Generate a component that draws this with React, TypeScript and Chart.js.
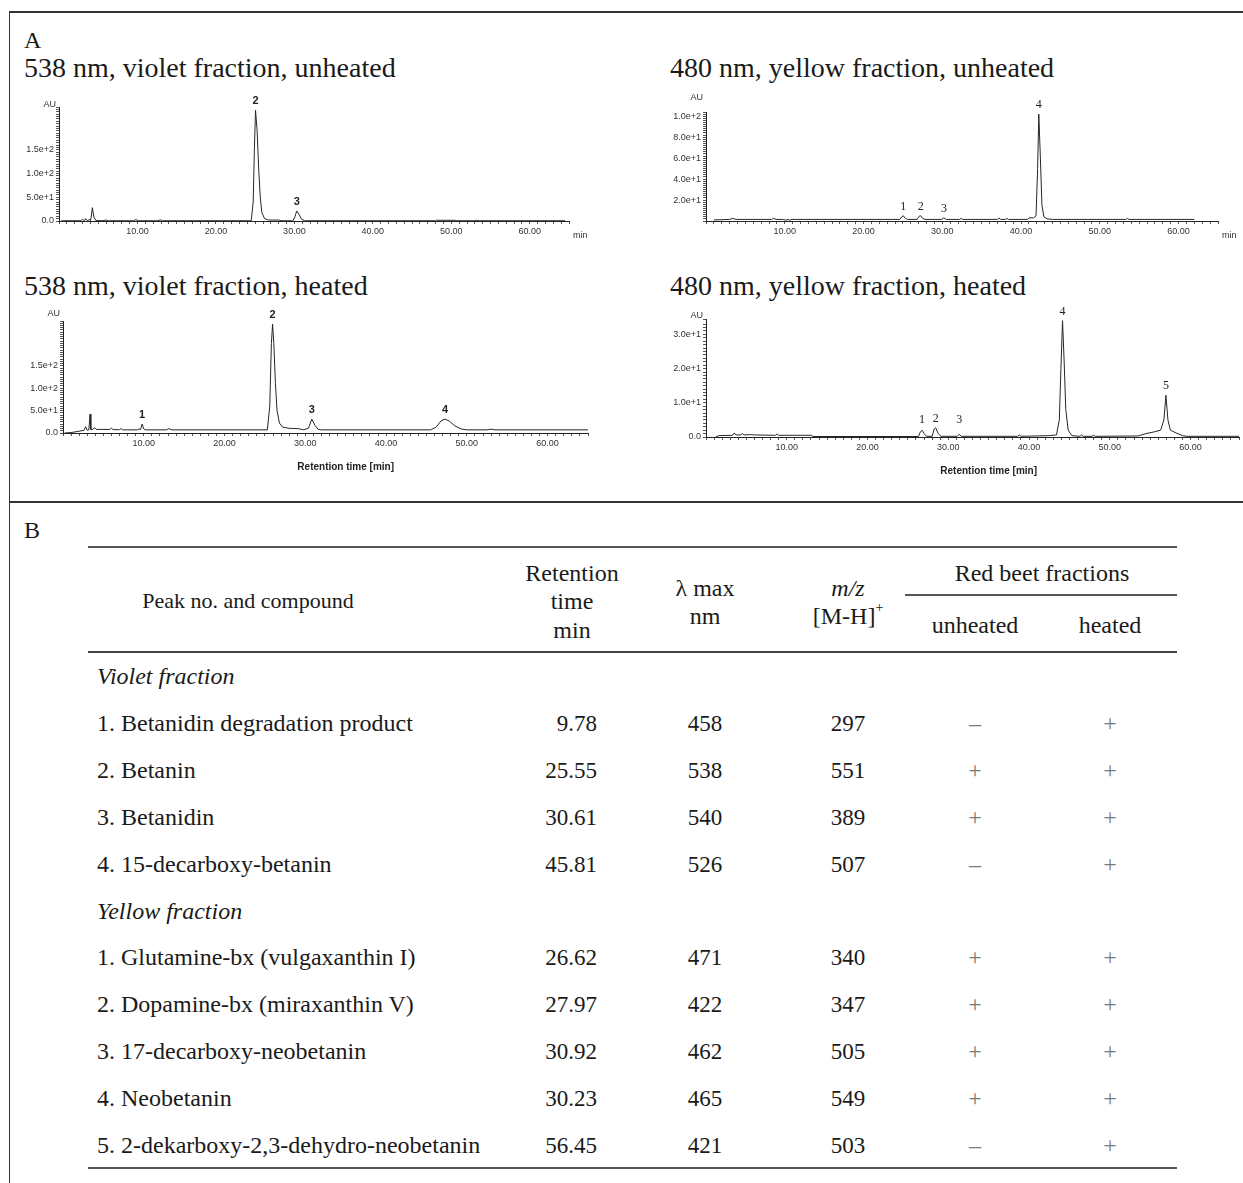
import React, { useEffect, useRef } from 'react';
import { Chart, registerables } from 'chart.js';

Chart.register(...registerables);

// ---------------- Chromatogram traces: [retention time (min), absorbance (AU)] ----------------
const violetUnheatedTrace: [number, number][] = [
  [0.3, 0.5], [2.8, 0.5], [3.0, 4], [3.2, 0.5], [3.4, 5], [3.6, 1], [3.9, 3], [4.0, 0.5], [4.1, 8], [4.25, 28],
  [4.45, 8], [4.7, 1], [5.5, 0.5], [6.0, 2], [6.3, 0.5], [9.5, 0.5], [9.8, 3], [10.1, 0.5], [12.6, 0.5],
  [12.9, 2.5], [13.2, 0.5], [24.5, 0.5], [24.75, 40], [24.9, 150], [25.05, 233], [25.25, 190], [25.45, 110],
  [25.65, 50], [25.85, 18], [26.2, 5], [26.7, 2], [28.0, 2], [28.4, 0.5], [29.8, 0.5], [30.05, 8], [30.3, 21],
  [30.6, 14], [30.9, 4], [31.3, 0.5], [48.0, 0.5], [48.1, 1.5], [50.5, 1.5], [50.6, 0.5], [53.0, 0.5],
  [53.2, 1.5], [53.6, 0.5], [64.5, 0.5],
];
const yellowUnheatedTrace: [number, number][] = [
  [1.0, 1], [3.0, 1.5], [3.4, 2.5], [3.8, 1.5], [8.3, 1.5], [8.6, 2.5], [8.9, 1.5], [9.8, 1.5], [10.1, 0.8],
  [10.4, 1.5], [10.6, 0.8], [10.9, 1.5], [24.6, 1.5], [24.85, 4], [25.05, 5], [25.3, 2.5], [25.6, 1.5],
  [26.8, 1.5], [27.05, 4.5], [27.25, 5], [27.5, 2.5], [27.8, 1.5], [29.9, 1.5], [30.2, 3], [30.5, 1.5],
  [32.2, 1.5], [32.4, 2.5], [32.6, 1.5], [37.0, 1.5], [37.2, 3], [37.4, 1.5], [38.0, 1.5], [38.2, 2.5],
  [38.4, 1.5], [40.8, 1.5], [41.0, 3], [41.6, 3], [41.9, 5], [42.1, 50], [42.25, 102], [42.45, 60],
  [42.65, 15], [42.9, 4], [43.3, 2], [44.0, 1.5], [53.3, 1.5], [53.5, 2.5], [53.7, 1.5], [62.0, 1.5],
];
const violetHeatedTrace: [number, number][] = [
  [0.2, 0], [1.0, 1], [2.0, 4], [2.6, 6], [2.8, 14], [3.0, 6], [3.2, 7], [3.35, 42], [3.45, 8], [3.7, 8],
  [3.9, 12], [4.1, 8], [5.8, 8], [6.0, 11], [6.2, 7.5], [7.0, 7.5], [7.2, 10], [7.4, 7], [9.2, 7], [9.4, 9],
  [9.6, 7.5], [9.8, 20], [10.0, 9], [10.2, 7], [12.8, 7], [13.1, 9.5], [13.5, 7], [25.3, 7], [25.6, 60],
  [25.8, 200], [25.95, 243], [26.1, 200], [26.3, 110], [26.5, 50], [26.8, 22], [27.2, 13], [28.0, 10.5],
  [29.2, 9.5], [29.8, 7], [30.4, 11], [30.8, 31], [31.2, 17], [31.6, 8], [32.0, 7], [45.5, 7], [46.2, 13],
  [46.8, 27], [47.3, 31], [47.8, 27], [48.5, 16], [49.3, 9], [50.0, 7], [52.5, 7], [53.0, 8.5], [53.5, 7],
  [65.0, 7],
];
const yellowHeatedTrace: [number, number][] = [
  [1.2, 0], [1.6, 0.4], [3.3, 0.5], [3.5, 1.2], [3.7, 0.6], [4.3, 0.6], [4.5, 1], [4.7, 0.6], [5.5, 0.7],
  [6.0, 0.6], [8.6, 0.5], [8.8, 0.9], [9.0, 0.5], [13.1, 0.5], [13.2, 0.15], [26.3, 0.15], [26.55, 1.5],
  [26.75, 2], [27.0, 1], [27.3, 0.2], [28.0, 0.2], [28.25, 2.3], [28.45, 2.7], [28.75, 1], [29.1, 0.2],
  [31.1, 0.2], [31.35, 0.8], [31.6, 0.2], [38.6, 0.2], [38.8, 0.6], [39.0, 0.2], [42.5, 0.4], [43.4, 0.6],
  [43.75, 5], [43.95, 20], [44.15, 34], [44.35, 22], [44.55, 8], [44.85, 2], [45.3, 0.4], [46.3, 0.2],
  [46.5, 0.6], [46.7, 0.2], [47.8, 0.2], [48.0, 0.5], [48.2, 0.2], [53.5, 0.3], [54.5, 1], [55.5, 1.5],
  [56.3, 2], [56.7, 5], [56.95, 12.2], [57.2, 5], [57.5, 2], [58.2, 1.2], [59.0, 0.4], [59.5, 0.2], [66.0, 0.2],
];

// Peak annotations
const violetUnheatedPeakLabels = ['2', '3'];
const violetUnheatedPeakTimes = [25.05, 30.3];
const violetUnheatedPeakHeights = [233, 21];
const yellowUnheatedPeakLabels = ['1', '2', '3', '4'];
const yellowUnheatedPeakTimes = [25.05, 27.25, 30.2, 42.25];
const yellowUnheatedPeakHeights = [5, 5, 3, 102];
const violetHeatedPeakLabels = ['1', '2', '3', '4'];
const violetHeatedPeakTimes = [9.8, 25.95, 30.8, 47.3];
const violetHeatedPeakHeights = [20, 243, 31, 31];
const yellowHeatedPeakLabels = ['1', '2', '3', '4', '5'];
const yellowHeatedPeakTimes = [26.75, 28.45, 31.35, 44.15, 56.95];
const yellowHeatedPeakHeights = [2, 2.7, 0.8, 34, 12.2];

// Tick labels
const xTickLabels = [10, 20, 30, 40, 50, 60];
const violetUnheatedYLabels = [0, 50, 100, 150];
const yellowUnheatedYLabels = [20, 40, 60, 80, 100];
const violetHeatedYLabels = [0, 50, 100, 150];
const yellowHeatedYLabels = [0, 10, 20, 30];

// ---------------- Table (panel B) ----------------
const violetCompounds = [
  '1. Betanidin degradation product',
  '2. Betanin',
  '3. Betanidin',
  '4. 15-decarboxy-betanin',
];
const violetRetention = ['9.78', '25.55', '30.61', '45.81'];
const violetLambdaMax = ['458', '538', '540', '526'];
const violetMz = ['297', '551', '389', '507'];
const violetUnheated = ['–', '+', '+', '–'];
const violetHeated = ['+', '+', '+', '+'];

const yellowCompounds = [
  '1. Glutamine-bx (vulgaxanthin I)',
  '2. Dopamine-bx (miraxanthin V)',
  '3. 17-decarboxy-neobetanin',
  '4. Neobetanin',
  '5. 2-dekarboxy-2,3-dehydro-neobetanin',
];
const yellowRetention = ['26.62', '27.97', '30.92', '30.23', '56.45'];
const yellowLambdaMax = ['471', '422', '462', '465', '421'];
const yellowMz = ['340', '347', '505', '549', '503'];
const yellowUnheated = ['+', '+', '+', '+', '–'];
const yellowHeated = ['+', '+', '+', '+', '+'];

// ---------------- Layout ----------------
const SERIF = '"Liberation Serif", "Times New Roman", serif';
const SANS = '"Liberation Sans", Arial, sans-serif';
const Y_AXIS_W = 48;
const PAD_TOP = 18;

type PanelProps = {
  trace: [number, number][];
  peakLabels: string[];
  peakTimes: number[];
  peakHeights: number[];
  yLabels: number[];
  yMax: number;
  yStep: number;
  xMax: number;
  left: number;
  top: number;
  right: number;
  bottom: number;
  padRight: number;
  xH: number;
  minLabel?: boolean;
  xTitle?: string;
  auDy: number;
  labelFloor: number;
  peakFont: string;
};

function fmtY(v: number): string {
  if (v === 0) return '0.0';
  return v.toExponential(1);
}

function Chromatogram(p: PanelProps) {
  const ref = useRef<HTMLCanvasElement | null>(null);
  const width = Y_AXIS_W + (p.right - p.left) + p.padRight;
  const height = PAD_TOP + (p.bottom - p.top) + p.xH;

  useEffect(() => {
    if (!ref.current) return;
    const annot = {
      id: 'annot',
      afterDraw(chart: any) {
        const { ctx, chartArea, scales } = chart;
        const xs = scales.x;
        const ys = scales.y;
        ctx.save();
        ctx.fillStyle = '#333';
        ctx.font = `9px ${SANS}`;
        ctx.textAlign = 'right';
        ctx.textBaseline = 'alphabetic';
        ctx.fillText('AU', chartArea.left - 3, chartArea.top + p.auDy);
        if (p.minLabel) {
          ctx.textAlign = 'left';
          ctx.textBaseline = 'middle';
          ctx.fillText('min', chartArea.right + 4, chartArea.bottom + 15);
        }
        if (p.xTitle) {
          ctx.font = `600 10px ${SANS}`;
          ctx.fillStyle = '#222';
          ctx.textAlign = 'center';
          ctx.textBaseline = 'middle';
          ctx.fillText(p.xTitle, xs.getPixelForValue(35), chartArea.bottom + 34);
        }
        ctx.font = p.peakFont;
        ctx.fillStyle = '#222';
        ctx.textAlign = 'center';
        ctx.textBaseline = 'alphabetic';
        p.peakLabels.forEach((lab, i) => {
          const px = xs.getPixelForValue(p.peakTimes[i]);
          const py = Math.min(ys.getPixelForValue(p.peakHeights[i]) - 6, chartArea.bottom - p.labelFloor);
          ctx.fillText(lab, px, py);
        });
        ctx.restore();
      },
    };

    const tickFont = { family: SANS, size: 9 };
    const chart = new Chart(ref.current, {
      type: 'line',
      data: {
        datasets: [
          {
            data: p.trace.map(([x, y]) => ({ x, y })),
            borderColor: '#262626',
            borderWidth: 1,
            pointRadius: 0,
            tension: 0,
            fill: false,
          },
        ],
      },
      options: {
        responsive: false,
        animation: false,
        events: [],
        layout: { padding: { top: PAD_TOP, right: p.padRight, left: 0, bottom: 0 } },
        plugins: { legend: { display: false }, tooltip: { enabled: false } },
        scales: {
          x: {
            type: 'linear',
            min: 0,
            max: p.xMax,
            afterFit: (s: any) => {
              s.height = p.xH;
            },
            ticks: {
              stepSize: 1,
              autoSkip: false,
              maxRotation: 0,
              minRotation: 0,
              padding: 2,
              font: tickFont,
              color: '#333',
              callback: (v: any) => (xTickLabels.includes(Number(v)) ? Number(v).toFixed(2) : ''),
            },
            grid: { display: true, drawOnChartArea: false, drawTicks: true, tickLength: 3, color: '#555', lineWidth: 1 },
            border: { display: true, color: '#222', width: 1 },
          },
          y: {
            type: 'linear',
            min: 0,
            max: p.yMax,
            afterFit: (s: any) => {
              s.width = Y_AXIS_W;
            },
            ticks: {
              stepSize: p.yStep,
              autoSkip: false,
              padding: 2,
              font: tickFont,
              color: '#333',
              callback: (v: any) => (p.yLabels.includes(Number(v)) ? fmtY(Number(v)) : ''),
            },
            grid: { display: true, drawOnChartArea: false, drawTicks: true, tickLength: 3, color: '#555', lineWidth: 1 },
            border: { display: true, color: '#222', width: 1 },
          },
        },
      },
      plugins: [annot],
    } as any);
    return () => chart.destroy();
  }, []);

  return (
    <canvas
      ref={ref}
      width={width}
      height={height}
      style={{ position: 'absolute', left: p.left - Y_AXIS_W, top: p.top - PAD_TOP, width, height }}
    />
  );
}

type TextProps = {
  x: number;
  y: number;
  align?: 'left' | 'center' | 'right';
  size?: number;
  italic?: boolean;
  color?: string;
  children: React.ReactNode;
};

function T({ x, y, align = 'left', size = 24, italic = false, color = '#1a1a1a', children }: TextProps) {
  const tx = align === 'left' ? '0' : align === 'center' ? '-50%' : '-100%';
  return (
    <div
      style={{
        position: 'absolute',
        left: x,
        top: y,
        transform: `translate(${tx}, -50%)`,
        fontSize: size,
        lineHeight: 1,
        fontStyle: italic ? 'italic' : 'normal',
        whiteSpace: 'nowrap',
        color,
        fontFamily: SERIF,
      }}
    >
      {children}
    </div>
  );
}

function HLine({ x1, x2, y, color = '#444', w = 1.5 }: { x1: number; x2: number; y: number; color?: string; w?: number }) {
  return <div style={{ position: 'absolute', left: x1, top: y - w / 2, width: x2 - x1, height: w, background: color }} />;
}

const ROW0 = 676;
const ROW_STEP = 46.9;
const COL_NAME = 97;
const COL_RT = 597;
const COL_LAMBDA = 705;
const COL_MZ = 848;
const COL_UNH = 975;
const COL_HEAT = 1110;
const TABLE_SIZE = 24;
const NUM_SIZE = 23;
const TITLE_SIZE = 28;
const SIGN_COLOR = '#7a7a7a';

function TableRows({
  startIdx,
  names,
  rt,
  lam,
  mz,
  unh,
  heat,
}: {
  startIdx: number;
  names: string[];
  rt: string[];
  lam: string[];
  mz: string[];
  unh: string[];
  heat: string[];
}) {
  return (
    <>
      {names.map((n, i) => {
        const y = ROW0 + ROW_STEP * (startIdx + i);
        return (
          <React.Fragment key={n}>
            <T x={COL_NAME} y={y} size={TABLE_SIZE}>{n}</T>
            <T x={COL_RT} y={y} align="right" size={NUM_SIZE}>{rt[i]}</T>
            <T x={COL_LAMBDA} y={y} align="center" size={NUM_SIZE}>{lam[i]}</T>
            <T x={COL_MZ} y={y} align="center" size={NUM_SIZE}>{mz[i]}</T>
            <T x={COL_UNH} y={y} align="center" size={TABLE_SIZE} color={SIGN_COLOR}>{unh[i]}</T>
            <T x={COL_HEAT} y={y} align="center" size={TABLE_SIZE} color={SIGN_COLOR}>{heat[i]}</T>
          </React.Fragment>
        );
      })}
    </>
  );
}

export default function App() {
  return (
    <div
      style={{
        position: 'absolute',
        left: 0,
        top: 0,
        width: 1243,
        height: 1183,
        background: '#fff',
        overflow: 'hidden',
        fontFamily: SERIF,
      }}
    >
      {/* frame */}
      <HLine x1={9} x2={1243} y={12} color="#333" w={1.6} />
      <div style={{ position: 'absolute', left: 8.5, top: 12, width: 1.6, height: 1171, background: '#333' }} />
      <HLine x1={9} x2={1243} y={502} color="#333" w={1.6} />

      {/* Panel A */}
      <T x={24} y={40} size={24}>A</T>
      <T x={24} y={68} size={TITLE_SIZE}>538 nm, violet fraction, unheated</T>
      <T x={670} y={68} size={TITLE_SIZE}>480 nm, yellow fraction, unheated</T>
      <T x={24} y={286} size={TITLE_SIZE}>538 nm, violet fraction, heated</T>
      <T x={670} y={286} size={TITLE_SIZE}>480 nm, yellow fraction, heated</T>

      <Chromatogram
        trace={violetUnheatedTrace}
        peakLabels={violetUnheatedPeakLabels}
        peakTimes={violetUnheatedPeakTimes}
        peakHeights={violetUnheatedPeakHeights}
        yLabels={violetUnheatedYLabels}
        yMax={240}
        yStep={5}
        xMax={65}
        left={59}
        top={107}
        right={569}
        bottom={221}
        padRight={30}
        xH={20}
        minLabel
        auDy={0}
        labelFloor={10}
        peakFont={`bold 11px ${SANS}`}
      />
      <Chromatogram
        trace={yellowUnheatedTrace}
        peakLabels={yellowUnheatedPeakLabels}
        peakTimes={yellowUnheatedPeakTimes}
        peakHeights={yellowUnheatedPeakHeights}
        yLabels={yellowUnheatedYLabels}
        yMax={104}
        yStep={2}
        xMax={65}
        left={706}
        top={112}
        right={1218}
        bottom={221}
        padRight={25}
        xH={20}
        minLabel
        auDy={-12}
        labelFloor={9}
        peakFont={`12px ${SERIF}`}
      />
      <Chromatogram
        trace={violetHeatedTrace}
        peakLabels={violetHeatedPeakLabels}
        peakTimes={violetHeatedPeakTimes}
        peakHeights={violetHeatedPeakHeights}
        yLabels={violetHeatedYLabels}
        yMax={250}
        yStep={5}
        xMax={65}
        left={63}
        top={321}
        right={588}
        bottom={433}
        padRight={20}
        xH={44}
        xTitle="Retention time [min]"
        auDy={-5}
        labelFloor={10}
        peakFont={`bold 11px ${SANS}`}
      />
      <Chromatogram
        trace={yellowHeatedTrace}
        peakLabels={yellowHeatedPeakLabels}
        peakTimes={yellowHeatedPeakTimes}
        peakHeights={yellowHeatedPeakHeights}
        yLabels={yellowHeatedYLabels}
        yMax={34.5}
        yStep={1}
        xMax={66}
        left={706}
        top={319}
        right={1239}
        bottom={437}
        padRight={4}
        xH={44}
        xTitle="Retention time [min]"
        auDy={-1}
        labelFloor={14}
        peakFont={`12px ${SERIF}`}
      />

      {/* Panel B */}
      <T x={24} y={530} size={24}>B</T>
      <HLine x1={88} x2={1177} y={547} color="#555" />
      <T x={248} y={601} align="center" size={22}>Peak no. and compound</T>
      <T x={572} y={573} align="center" size={TABLE_SIZE}>Retention</T>
      <T x={572} y={601} align="center" size={TABLE_SIZE}>time</T>
      <T x={572} y={630} align="center" size={TABLE_SIZE}>min</T>
      <T x={705} y={588} align="center" size={TABLE_SIZE}>λ max</T>
      <T x={705} y={616} align="center" size={TABLE_SIZE}>nm</T>
      <T x={848} y={588} align="center" size={TABLE_SIZE} italic>m/z</T>
      <T x={848} y={616} align="center" size={TABLE_SIZE}>
        [M-H]<sup style={{ fontSize: 14, verticalAlign: 'top', position: 'relative', top: -3 }}>+</sup>
      </T>
      <T x={1042} y={573} align="center" size={TABLE_SIZE}>Red beet fractions</T>
      <HLine x1={905} x2={1177} y={595} color="#555" />
      <T x={975} y={625} align="center" size={TABLE_SIZE}>unheated</T>
      <T x={1110} y={625} align="center" size={TABLE_SIZE}>heated</T>
      <HLine x1={88} x2={1177} y={652} color="#444" />

      <T x={COL_NAME} y={ROW0} size={TABLE_SIZE} italic>Violet fraction</T>
      <TableRows
        startIdx={1}
        names={violetCompounds}
        rt={violetRetention}
        lam={violetLambdaMax}
        mz={violetMz}
        unh={violetUnheated}
        heat={violetHeated}
      />
      <T x={COL_NAME} y={ROW0 + ROW_STEP * 5} size={TABLE_SIZE} italic>Yellow fraction</T>
      <TableRows
        startIdx={6}
        names={yellowCompounds}
        rt={yellowRetention}
        lam={yellowLambdaMax}
        mz={yellowMz}
        unh={yellowUnheated}
        heat={yellowHeated}
      />
      <HLine x1={88} x2={1177} y={1168} color="#555" />
    </div>
  );
}
